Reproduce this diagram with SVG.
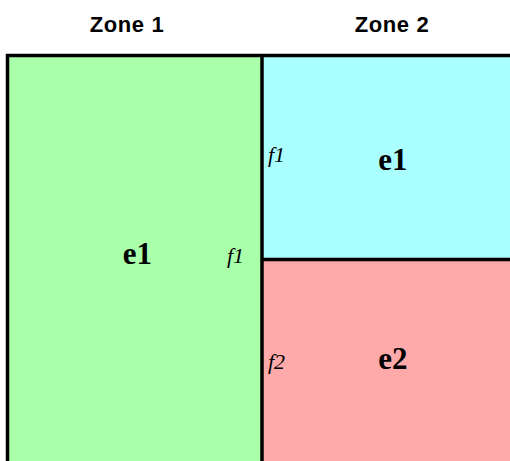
<svg xmlns="http://www.w3.org/2000/svg" width="510" height="461" viewBox="0 0 510 461">
<style>
.zone{font-family:"Liberation Sans",Arial,sans-serif;font-weight:bold;font-size:22px;letter-spacing:0.6px;fill:#000;text-anchor:middle}
.el{font-family:"Liberation Serif","Times New Roman",serif;font-weight:bold;font-size:31px;fill:#000;text-anchor:middle}
.face{font-family:"Liberation Serif","Times New Roman",serif;font-style:italic;font-size:22px;fill:#000}
.edge{stroke:#000;stroke-width:3.5;fill:none}
</style>
<rect width="510" height="461" fill="#fff"/>
<text class="zone" x="127" y="31.5">Zone 1</text>
<text class="zone" x="392" y="31.5">Zone 2</text>
<g id="z1e1">
<rect x="7.5" y="55.5" width="254.5" height="406" fill="#aaffaa"/>
<text class="el" x="137.5" y="263.5">e1</text>
<text class="face" x="227" y="263">f1</text>
</g>
<g id="z2e1">
<rect x="262" y="55.5" width="250" height="204" fill="#aaffff"/>
<text class="el" x="393" y="169.5">e1</text>
<text class="face" x="268" y="162">f1</text>
</g>
<g id="z2e2">
<rect x="262" y="259.5" width="250" height="202" fill="#ffaaaa"/>
<text class="el" x="393" y="368.5">e2</text>
<text class="face" x="268" y="369">f2</text>
</g>
<g id="connectors">
<path class="edge" d="M7.5 461 V55.5 H512"/>
<path class="edge" d="M262 55.5 V461"/>
<path class="edge" d="M262 259.5 H512"/>
</g>
</svg>
